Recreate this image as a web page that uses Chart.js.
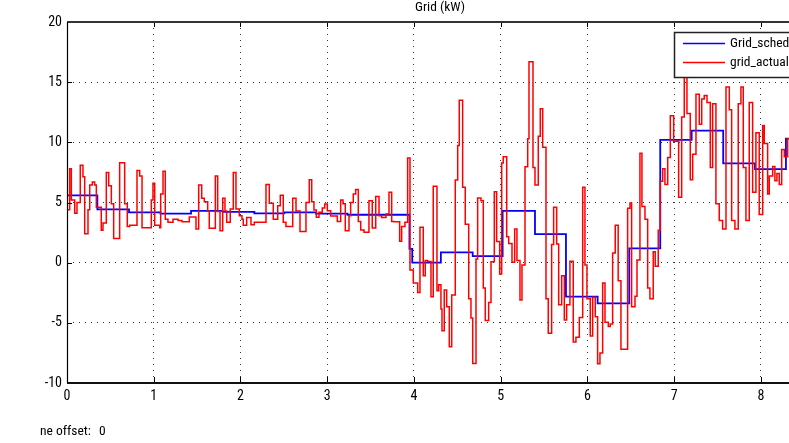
<!DOCTYPE html>
<html><head><meta charset="utf-8">
<script src="https://cdn.jsdelivr.net/npm/chart.js@4.4.1/dist/chart.umd.min.js"></script>
<style>
html,body{margin:0;padding:0;background:#fff;overflow:hidden;width:789px;height:443px;}
#wrap{position:absolute;left:0;top:0;width:830px;height:443px;}
.foot{position:absolute;top:422px;font:13.5px "Roboto Condensed",sans-serif;color:#000;white-space:pre;}
</style></head><body>
<div id="wrap"><canvas id="c" width="830" height="443"></canvas></div>
<div class="foot" style="left:40px">ne offset:</div>
<div class="foot" style="left:99px">0</div>
<script>
const FONT = '"Roboto Condensed",sans-serif';
const chartTitle = 'Grid (kW)';
const seriesNames = ['Grid_sched', 'grid_actual'];
const xTickValues = [0, 1, 2, 3, 4, 5, 6, 7, 8];
const yTickValues = [-10, -5, 0, 5, 10, 15, 20];

// Grid_sched (step signal): start time of each step and value held
const schedTime = [0, 0.35, 0.715, 1.078, 1.43, 1.795, 2.16, 2.505, 2.87, 3.233, 3.948, 3.98, 4.31, 4.677, 5.022, 5.395, 5.752, 6.117, 6.482, 6.839, 7.201, 7.565, 7.931, 8.288, 8.6];
const schedValue = [5.6, 4.43, 4.18, 4.07, 4.3, 4.22, 4.1, 4.18, 4.07, 3.98, 1.15, 0.0, 0.86, 0.55, 4.3, 2.38, -2.83, -3.38, 1.19, 10.2, 10.97, 8.25, 7.78, 10.3, 10.3];

// grid_actual (step signal)
const actualTime = [
 0, 0.031, 0.05, 0.089, 0.115, 0.153, 0.184, 0.204, 0.242, 0.262, 0.292, 0.319, 0.338, 0.395, 0.415, 0.453, 0.481, 0.511, 0.538, 0.607, 0.665, 0.695, 0.723, 0.807, 0.838, 0.865, 0.972, 0.991, 1.011, 1.069, 1.08, 1.107, 1.133, 1.164, 1.222, 1.28, 1.326,
 1.41, 1.487, 1.518, 1.553, 1.583, 1.622, 1.64, 1.71, 1.737, 1.764, 1.795, 1.821, 1.841, 1.882, 1.917, 1.948, 1.986, 2.017, 2.032, 2.071, 2.121, 2.159, 2.294, 2.332, 2.378, 2.429, 2.459, 2.493, 2.524, 2.602, 2.64, 2.686, 2.755, 2.793,
 2.821, 2.847, 2.874, 2.905, 2.943, 2.971, 3.001, 3.04, 3.116, 3.155, 3.182, 3.208, 3.251, 3.27, 3.3, 3.328, 3.358, 3.386, 3.424, 3.481, 3.519, 3.559, 3.597, 3.628, 3.677, 3.712, 3.743, 3.769, 3.835, 3.858, 3.896, 3.927,
 3.954, 3.992, 4.043, 4.069, 4.107, 4.13, 4.158, 4.196, 4.222, 4.265, 4.285, 4.311, 4.323, 4.349, 4.377, 4.407, 4.435, 4.476, 4.504, 4.522, 4.561, 4.591, 4.631, 4.657, 4.677, 4.715, 4.734, 4.772, 4.799, 4.822, 4.861, 4.888, 4.926, 4.953, 4.988, 5.011, 5.029, 5.069, 5.092, 5.13, 5.161, 5.187, 5.222, 5.245, 5.28, 5.311, 5.326, 5.372,
 5.395, 5.433, 5.456, 5.484, 5.522, 5.548, 5.587, 5.61, 5.645, 5.668, 5.703, 5.733, 5.76, 5.798, 5.836, 5.867, 5.906, 5.945, 5.971, 5.994, 6.032, 6.06, 6.09, 6.117, 6.144, 6.175, 6.202, 6.24, 6.263, 6.29, 6.32, 6.354, 6.386, 6.463, 6.49, 6.509, 6.548, 6.571, 6.605, 6.628, 6.663, 6.694, 6.72, 6.758, 6.781, 6.816, 6.839, 6.867, 6.893,
 6.925, 6.955, 6.994, 7.051, 7.086, 7.116, 7.147, 7.185, 7.213, 7.251, 7.289, 7.317, 7.346, 7.378, 7.416, 7.443, 7.481, 7.519, 7.558, 7.597, 7.635, 7.662, 7.7, 7.738, 7.769, 7.796, 7.827, 7.865, 7.904, 7.942, 7.98, 8.02, 8.038, 8.077, 8.096, 8.135, 8.161, 8.184, 8.211, 8.239, 8.269, 8.308, 8.36, 8.45, 8.6
];
const actualValue = [
 4.4, 7.8, 5.2, 4.1, 5.0, 8.1, 7.15, 2.4, 4.4, 6.45, 6.7, 6.45, 4.6, 2.7, 3.3, 7.5, 6.4, 4.9, 2.0, 8.3, 4.9, 3.0, 3.1, 7.65, 7.2, 2.9, 5.2, 6.6, 3.1, 2.9, 5.7, 7.6, 3.6, 3.35, 3.6, 3.5, 3.4,
 3.8, 2.8, 6.45, 5.35, 5.07, 4.3, 2.85, 7.2, 4.26, 2.66, 5.35, 4.3, 3.35, 4.46, 7.5, 4.46, 3.9, 3.6, 3.1, 3.76, 3.15, 3.35, 6.5, 4.93, 3.6, 4.74, 5.6, 3.35, 3.0, 5.35, 4.3, 2.58, 5.0, 6.9,
 5.07, 4.38, 3.77, 4.18, 4.55, 4.88, 4.32, 3.88, 3.43, 5.2, 4.9, 2.66, 3.9, 5.0, 5.7, 6.07, 3.43, 2.72, 2.52, 5.15, 2.88, 5.49, 3.9, 3.76, 4.05, 5.85, 3.43, 3.4, 1.77, 3.0, 3.35, 8.7,
 -0.6, -1.69, -2.47, 2.94, -1.08, 0.17, 0.1, -2.83, 6.35, -2.33, -1.83, -3.85, -5.65, -2.27, -3.66, -6.98, -2.69, 6.87, 9.73, 13.5, 6.26, 3.2, -3.0, -4.6, -8.37, 0.3, 5.37, 5.15, -2.1, -4.8, -3.3, 0.08, 5.9, 1.75, -0.94, 8.29, 8.8, 2.16, 1.6, 0.03, 2.8, 0.17, -3.1, -0.19, 7.98, 10.3, 16.7, 7.9,
 6.45, 10.5, 12.8, 9.6, -3.0, -5.87, 1.5, 4.6, 1.55, -3.5, -1.08, -4.76, -3.5, 0.11, -6.6, -6.2, -4.55, 6.26, -0.19, -3.0, -6.1, -2.88, -4.5, -8.4, -7.5, -1.7, -4.96, -5.3, -5.1, 0.8, 3.1, -1.5, -7.2, 4.52, 4.96, -3.66, -2.8, 0.22, 9.1, 4.66, 3.6, -2.1, -3.0, 0.9, -0.3, 2.7, 6.76, 7.8, 6.5,
 8.75, 12.2, 10.1, 5.43, 12.1, 16.0, 12.4, 6.9, 9.0, 14.0, 11.5, 13.6, 13.9, 13.3, 7.9, 13.2, 4.9, 3.5, 2.8, 14.6, 12.7, 3.5, 2.8, 13.2, 14.6, 7.9, 3.5, 13.3, 5.85, 10.8, 4.0, 11.4, 9.9, 5.7, 7.2, 8.0, 6.8, 7.4, 6.5, 9.4, 8.8, 10.3, 10.5, 9.8, 9.8
];

const seriesColors = ['#0000ff', '#ff0000'];

const boxPlugin = {
  id: 'matlabBox',
  afterDraw(chart) {
    const ctx = chart.ctx;
    const a = chart.chartArea;
    const xs = chart.scales.x, ys = chart.scales.y;
    ctx.save();
    // inner tick marks
    ctx.strokeStyle = '#000';
    ctx.lineWidth = 1;
    ctx.beginPath();
    xTickValues.forEach(v => {
      const p = Math.round(xs.getPixelForValue(v)) + 0.5;
      ctx.moveTo(p, a.top); ctx.lineTo(p, a.top + 5);
      ctx.moveTo(p, a.bottom); ctx.lineTo(p, a.bottom - 6);
    });
    yTickValues.forEach(v => {
      const p = Math.round(ys.getPixelForValue(v)) + 0.5;
      ctx.moveTo(a.left, p); ctx.lineTo(a.left + 5, p);
    });
    ctx.stroke();
    // axes box
    ctx.lineWidth = 2;
    ctx.strokeStyle = '#333';
    ctx.beginPath(); ctx.moveTo(a.left, a.top); ctx.lineTo(a.right, a.top); ctx.stroke();
    ctx.strokeStyle = '#111';
    ctx.beginPath(); ctx.moveTo(a.left, a.bottom); ctx.lineTo(a.right, a.bottom); ctx.stroke();
    ctx.lineWidth = 1.2;
    ctx.strokeStyle = '#000';
    ctx.beginPath(); ctx.moveTo(a.left + 0.5, a.top); ctx.lineTo(a.left + 0.5, a.bottom); ctx.stroke();
    // legend
    const lx = 674, ly = 32, lw = 140, lh = 45;
    ctx.fillStyle = '#fff';
    ctx.fillRect(lx, ly, lw, lh);
    ctx.lineWidth = 1.5;
    ctx.strokeStyle = '#222';
    ctx.strokeRect(lx + 0.5, ly + 0.5, lw, lh);
    const rows = [43.5, 62.5];
    ctx.font = '13.5px ' + FONT;
    ctx.textBaseline = 'middle';
    ctx.textAlign = 'left';
    seriesNames.forEach((name, i) => {
      ctx.strokeStyle = seriesColors[i];
      ctx.lineWidth = 1.6;
      ctx.beginPath(); ctx.moveTo(683, rows[i]); ctx.lineTo(725, rows[i]); ctx.stroke();
      ctx.fillStyle = '#000';
      ctx.fillText(name, 730, rows[i]);
    });
    ctx.restore();
  }
};

const tickFont = {family: FONT, size: 14};

new Chart(document.getElementById('c'), {
  type: 'line',
  data: {
    datasets: [
      {label: seriesNames[1], data: actualTime.map((t, i) => ({x: t, y: actualValue[i]})),
       borderColor: seriesColors[1], borderWidth: 1.5, stepped: true, pointRadius: 0, fill: false, order: 0},
      {label: seriesNames[0], data: schedTime.map((t, i) => ({x: t, y: schedValue[i]})),
       borderColor: seriesColors[0], borderWidth: 1.8, stepped: true, pointRadius: 0, fill: false, order: 1}
    ]
  },
  options: {
    responsive: false, animation: false, events: [],
    layout: {padding: {left: 0, right: 17, top: 0, bottom: 0}},
    plugins: {
      legend: {display: false}, tooltip: {enabled: false},
      title: {display: true, text: chartTitle, fullSize: false, color: '#000',
              font: {family: FONT, size: 13.5, weight: 'normal', lineHeight: 1.2}, padding: {top: 0, bottom: 5.8}}
    },
    scales: {
      x: {
        type: 'linear', min: 0, max: 8.6,
        afterBuildTicks: s => { s.ticks = xTickValues.map(v => ({value: v})); },
        afterFit: s => { s.height = 60; },
        ticks: {color: '#000', font: tickFont, padding: 5, maxRotation: 0, autoSkip: false},
        grid: {color: '#333', lineWidth: 1, drawTicks: false},
        border: {display: false, dash: [1, 5]}
      },
      y: {
        type: 'linear', min: -10, max: 20,
        afterBuildTicks: s => { s.ticks = yTickValues.map(v => ({value: v})); },
        afterFit: s => { s.width = 67; },
        ticks: {color: '#000', font: tickFont, padding: 5},
        grid: {color: '#333', lineWidth: 1, drawTicks: false},
        border: {display: false, dash: [1, 5]}
      }
    }
  },
  plugins: [boxPlugin]
});
</script>
</body></html>
